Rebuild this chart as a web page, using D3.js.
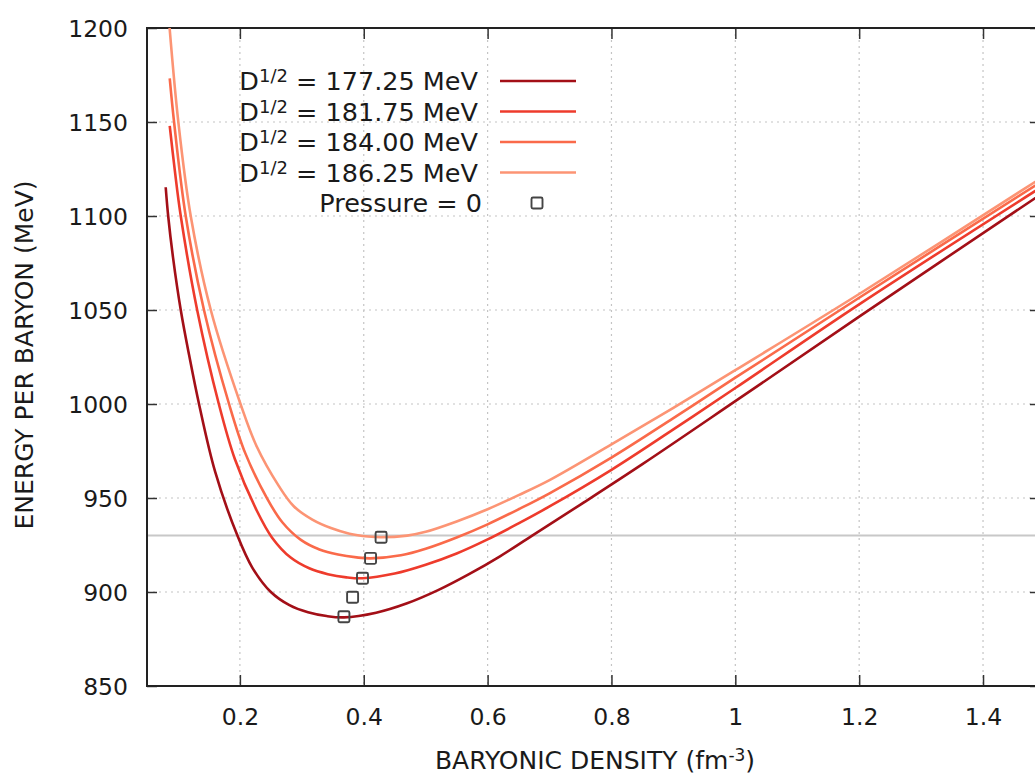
<html>
<head>
<script src="https://d3js.org/d3.v7.min.js"></script>
<style>
  body { margin: 0; background: #fff; }
  text { font-family: "DejaVu Sans", sans-serif; fill: #1a1a1a; }
</style>
</head>
<body>
<svg id="chart" width="1035" height="776"></svg>
<script>
// energy per baryon (MeV) vs baryonic density (fm^-3)
var d17725 = [[0.0802,1115.3],[0.0842,1100],[0.092,1078],[0.1045,1050],[0.118,1026],[0.134,1000],
  [0.16,964],[0.196,930],[0.22,913],[0.25,900],[0.28,893],[0.31,889.2],[0.34,887.2],[0.368,886.5],
  [0.42,889],[0.47,894],[0.52,901],[0.57,909.5],[0.62,919],[0.672,930],[0.75,946.5],[0.85,968],
  [1.0,1001.5],[1.2,1046.5],[1.5,1113]];
var d18175 = [[0.0867,1147.9],[0.095,1124],[0.1045,1100],[0.131,1050],[0.166,1000],[0.192,970.6],
  [0.228,942.8],[0.252,928.9],[0.282,918.3],[0.312,912.6],[0.342,909.5],[0.372,907.8],[0.398,907.3],
  [0.45,909.8],[0.5,914.5],[0.55,920.5],[0.6,928],[0.65,936.5],[0.7,945.5],[0.8,965],[0.9,986.5],
  [1.0,1008.5],[1.2,1053],[1.5,1116.6]];
var d18400 = [[0.0867,1173.2],[0.0937,1150],[0.1125,1100],[0.142,1050],[0.1825,1000],[0.2085,974],
  [0.2445,949.4],[0.2685,937.1],[0.2985,927.7],[0.3285,922.6],[0.3585,919.9],[0.3885,918.4],[0.411,917.9],
  [0.46,919.5],[0.5,923],[0.55,929],[0.6,936],[0.65,944],[0.7,952.5],[0.8,971.5],[0.9,992.5],
  [1.0,1014],[1.2,1056.5],[1.5,1119.5]];
var d18625 = [[0.0865,1200],[0.1006,1150],[0.1206,1100],[0.153,1050],[0.201,1000],[0.227,977.5],
  [0.263,956.3],[0.287,945.6],[0.317,938.5],[0.347,934],[0.377,931],[0.407,929.5],[0.428,929.1],
  [0.47,930],[0.5,932],[0.55,937.5],[0.6,944],[0.65,951.5],[0.7,959.5],[0.8,978.5],[0.9,998],
  [1.0,1018],[1.2,1058.5],[1.5,1121.5]];
var pressureZero = [[0.368,886.8],[0.382,897.2],[0.398,907.3],[0.411,917.9],[0.428,929.1]];
var nucleonMass = 930;

var labels = ["177.25", "181.75", "184.00", "186.25"];
var series = [d17725, d18175, d18400, d18625];
var colors = ["#a30f17", "#ee3b2c", "#fa6a4a", "#fc9474"];
var xTicks = [0.2, 0.4, 0.6, 0.8, 1, 1.2, 1.4];
var yTicks = [850, 900, 950, 1000, 1050, 1100, 1150, 1200];

var svg = d3.select("#chart");
var pLeft = 147, pTop = 28, pRight = 1040, pBottom = 686;

var x = d3.scaleLinear().domain([0.05, 1.492]).range([pLeft, pRight]);
var y = d3.scaleLinear().domain([850, 1200]).range([pBottom, pTop]);

svg.append("clipPath").attr("id", "plot")
  .append("rect").attr("x", pLeft).attr("y", pTop)
  .attr("width", pRight - pLeft).attr("height", pBottom - pTop);

// dotted grid
svg.append("g").selectAll("line").data(xTicks).enter().append("line")
  .attr("x1", x).attr("x2", x).attr("y1", pTop).attr("y2", pBottom)
  .attr("stroke", "#c4c4c4").attr("stroke-width", 1.2).attr("stroke-dasharray", "2,4");
svg.append("g").selectAll("line").data(yTicks.slice(1, -1)).enter().append("line")
  .attr("y1", y).attr("y2", y).attr("x1", pLeft).attr("x2", pRight)
  .attr("stroke", "#c4c4c4").attr("stroke-width", 1.2).attr("stroke-dasharray", "2,4");

// horizontal reference line
svg.append("line")
  .attr("x1", pLeft).attr("x2", pRight).attr("y1", y(nucleonMass)).attr("y2", y(nucleonMass))
  .attr("stroke", "#c8c8c8").attr("stroke-width", 2);

// axes (ticks point inward, gnuplot style)
var fmt = function(d) { return String(+d.toFixed(1)); };
var gx = svg.append("g").attr("transform", "translate(0," + pBottom + ")")
  .call(d3.axisBottom(x).tickValues(xTicks).tickFormat(fmt).tickSize(-11).tickSizeOuter(0).tickPadding(22));
var gxTop = svg.append("g").attr("transform", "translate(0," + pTop + ")")
  .call(d3.axisTop(x).tickValues(xTicks).tickFormat("").tickSize(-11).tickSizeOuter(0));
var gy = svg.append("g").attr("transform", "translate(" + pLeft + ",0)")
  .call(d3.axisLeft(y).tickValues(yTicks).tickFormat(d3.format("d")).tickSize(-10).tickSizeOuter(0).tickPadding(19));
var gyRight = svg.append("g").attr("transform", "translate(" + pRight + ",0)")
  .call(d3.axisRight(y).tickValues(yTicks).tickFormat("").tickSize(-10).tickSizeOuter(0));

[gx, gxTop, gy, gyRight].forEach(function(g) {
  g.select(".domain").remove();
  g.selectAll(".tick line").attr("stroke", "#333").attr("stroke-width", 1.5);
  g.selectAll(".tick text").style("font-size", "23.5px").attr("fill", "#1a1a1a");
});
gy.selectAll(".tick text").attr("dy", "0.36em");

svg.append("rect").attr("x", pLeft).attr("y", pTop)
  .attr("width", pRight - pLeft).attr("height", pBottom - pTop)
  .attr("fill", "none").attr("stroke", "#222").attr("stroke-width", 2);

// curves
var line = d3.line()
  .x(function(d) { return x(d[0]); })
  .y(function(d) { return y(d[1]); })
  .curve(d3.curveCatmullRom.alpha(0.5));

var plot = svg.append("g").attr("clip-path", "url(#plot)");
series.forEach(function(s, i) {
  plot.append("path").attr("d", line(s))
    .attr("fill", "none").attr("stroke", colors[i]).attr("stroke-width", 2.6);
});

plot.selectAll("rect.p0").data(pressureZero).enter().append("rect")
  .attr("class", "p0")
  .attr("x", function(d) { return x(d[0]) - 5.5; })
  .attr("y", function(d) { return y(d[1]) - 5.5; })
  .attr("width", 11).attr("height", 11).attr("rx", 1.5)
  .attr("fill", "none").attr("stroke", "#444").attr("stroke-width", 1.9);

// legend
var legY = [81, 111.5, 142, 172.5];
var leg = svg.append("g");
labels.forEach(function(lab, i) {
  var t = leg.append("text").attr("x", 478).attr("y", legY[i]).attr("dy", "0.36em")
    .attr("text-anchor", "end").style("font-size", "25.5px");
  t.append("tspan").text("D");
  t.append("tspan").attr("dy", "-0.45em").style("font-size", "18px").text("1/2");
  t.append("tspan").attr("dy", "0.32em").text(" = " + lab + " MeV");
  leg.append("line").attr("x1", 500).attr("x2", 576).attr("y1", legY[i]).attr("y2", legY[i])
    .attr("stroke", colors[i]).attr("stroke-width", 2.6);
});
leg.append("text").attr("x", 482).attr("y", 203).attr("dy", "0.36em")
  .attr("text-anchor", "end").style("font-size", "25.5px").text("Pressure = 0");
leg.append("rect").attr("x", 531.5).attr("y", 197.5).attr("width", 11).attr("height", 11).attr("rx", 1.5)
  .attr("fill", "none").attr("stroke", "#444").attr("stroke-width", 1.9);

// axis titles
var xt = svg.append("text").attr("x", 595).attr("y", 769)
  .attr("text-anchor", "middle").style("font-size", "25px");
xt.append("tspan").text("BARYONIC DENSITY (fm");
xt.append("tspan").attr("dy", "-0.5em").style("font-size", "17px").text("-3");
xt.append("tspan").attr("dy", "0.35em").text(")");

svg.append("text").attr("transform", "translate(33,355) rotate(-90)")
  .attr("text-anchor", "middle").style("font-size", "25px").text("ENERGY PER BARYON (MeV)");
</script>
</body>
</html>
